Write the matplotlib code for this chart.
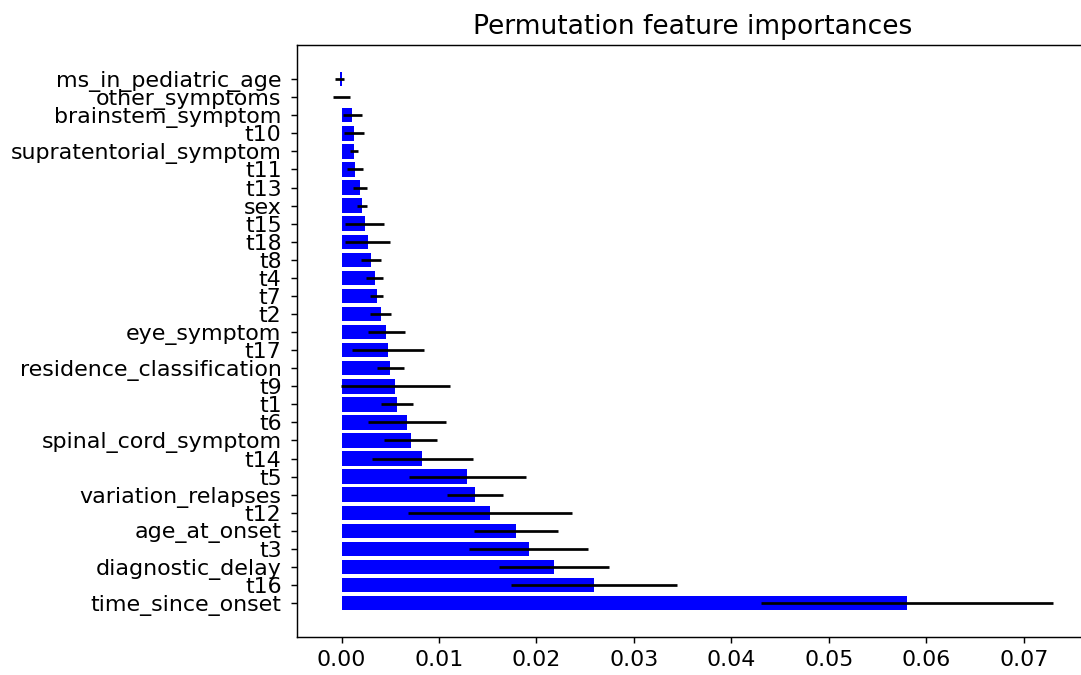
"""
Permutation feature importance chart (horizontal bars with std error bars)
"""
import matplotlib
matplotlib.use('Agg')  # Use non-interactive backend
import matplotlib.pyplot as plt
import numpy as np

# Features ordered from the bottom bar to the top bar
features = [
    'time_since_onset', 't16', 'diagnostic_delay', 't3', 'age_at_onset',
    't12', 'variation_relapses', 't5', 't14', 'spinal_cord_symptom',
    't6', 't1', 't9', 'residence_classification', 't17',
    'eye_symptom', 't2', 't7', 't4', 't8',
    't18', 't15', 'sex', 't13', 't11',
    'supratentorial_symptom', 't10', 'brainstem_symptom', 'other_symptoms',
    'ms_in_pediatric_age',
]

# Mean importance drop for each feature
importances_mean = [
    0.0580, 0.0259, 0.0218, 0.0192, 0.0179,
    0.0152, 0.0137, 0.0129, 0.0083, 0.0071,
    0.0067, 0.0057, 0.0055, 0.0050, 0.0048,
    0.0046, 0.0040, 0.0036, 0.0034, 0.0030,
    0.0027, 0.0024, 0.0021, 0.0019, 0.0014,
    0.0013, 0.0013, 0.0011, 0.0, -0.0002,
]

# Standard deviation over the permutation repeats
importances_std = [
    0.0150, 0.0085, 0.0056, 0.0061, 0.0043,
    0.0084, 0.0029, 0.0060, 0.0052, 0.0027,
    0.0040, 0.0016, 0.0056, 0.0014, 0.0037,
    0.0019, 0.0011, 0.0007, 0.0009, 0.0010,
    0.0023, 0.0020, 0.00055, 0.0007, 0.0008,
    0.0004, 0.00105, 0.00096, 0.00088, 0.00044,
]

plt.rcParams['font.size'] = 12.25

DPI = 130
fig = plt.figure(figsize=(1081 / DPI, 675 / DPI), dpi=DPI)
ax = fig.add_axes([0.2747, 0.0559, 0.7327, 0.8775])

y_pos = np.arange(len(features))
ax.barh(y_pos, importances_mean, xerr=importances_std, color='blue')
ax.set_yticks(y_pos)
ax.set_yticklabels(features)
ax.tick_params(axis='y', pad=5)
ax.set_title('Permutation feature importances')

fig.savefig('out.png', dpi=DPI)
plt.close(fig)
